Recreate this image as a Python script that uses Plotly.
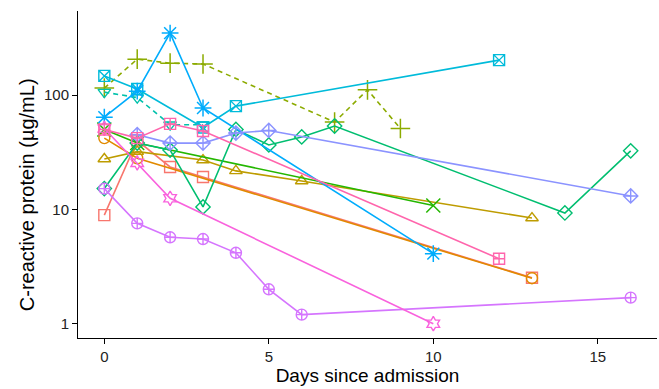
import plotly.graph_objects as go

# ---- data ----
sq_days = [0, 1, 2, 3, 13]
sq_crp = [8.9, 40, 23.5, 19.2, 2.52]

ci_days = [0, 1, 13]
ci_crp = [42, 28, 2.5]

tri_days = [0, 1, 3, 4, 6, 13]
tri_crp = [27.6, 32, 27, 21.7, 17.7, 8.4]

plus_days = [0, 1, 2, 3, 7, 8, 9]
plus_crp = [115, 206, 190, 187, 58, 111, 51]

x_days = [0, 1, 10]
x_crp = [50, 38, 10.8]

dia_days = [0, 1, 2, 3, 4, 5, 6, 7, 14, 16]
dia_crp = [15.2, 38, 33, 10.5, 50, 36.6, 43, 53.6, 9.3, 32.5]

trd_days = [0, 1, 2, 3]
trd_crp = [106, 95, 55, 55]

sqx_days = [0, 1, 3, 4, 12]
sqx_crp = [147, 113, 52, 80, 202]

ast_days = [0, 1, 2, 3, 10]
ast_crp = [64, 108, 348, 77, 4.1]

dp_days = [1, 2, 3, 4, 5, 16]
dp_crp = [45, 38, 38, 46.5, 49, 13.1]

cp_days = [0, 1, 2, 3, 4, 5, 6, 16]
cp_crp = [15.2, 7.55, 5.7, 5.5, 4.17, 2.0, 1.2, 1.69]

star_days = [0, 1, 2, 10]
star_crp = [51, 25.5, 12.5, 1.0]

sqp_days = [0, 1, 2, 3, 12]
sqp_crp = [50, 42, 56, 48.5, 3.7]

series = [
    (sq_days, sq_crp, "#F8766D", "square-open", "solid"),
    (ci_days, ci_crp, "#E18A00", "circle-open", "solid"),
    (tri_days, tri_crp, "#BE9C00", "triangle-up-open", "solid"),
    (plus_days, plus_crp, "#8CAB00", "cross-thin-open", "5px,4px"),
    (x_days, x_crp, "#24B700", "x-thin-open", "solid"),
    (dia_days, dia_crp, "#00BE70", "diamond-open", "solid"),
    (trd_days, trd_crp, "#00C1AB", "triangle-down-open", "5px,4px"),
    (sqx_days, sqx_crp, "#00BBDA", "square-x-open", "solid"),
    (ast_days, ast_crp, "#00ACFC", "asterisk-open", "solid"),
    (dp_days, dp_crp, "#8B93FF", "diamond-cross-open", "solid"),
    (cp_days, cp_crp, "#D575FE", "circle-cross-open", "solid"),
    (star_days, star_crp, "#F962DD", "hexagram-open", "solid"),
    (sqp_days, sqp_crp, "#FF65AC", "square-cross-open", "solid"),
]

fig = go.Figure()
for d, v, col, sym, dash in series:
    big = sym in ("cross-thin-open", "x-thin-open", "asterisk-open")
    fig.add_trace(go.Scatter(
        x=d, y=v, mode="lines+markers",
        line=dict(color=col, width=1.6, dash=dash),
        marker=dict(symbol=sym, size=14 if big else 11, color=col,
                    line=dict(color=col, width=1.5 if big else 1.4)),
        showlegend=False,
    ))

font_family = "Liberation Sans, Arial, sans-serif"
fig.update_layout(
    width=659, height=389,
    margin=dict(l=78, r=2, t=11, b=51),
    paper_bgcolor="white", plot_bgcolor="white",
    font=dict(family=font_family, color="black"),
    xaxis=dict(
        range=[-0.8, 16.8], tickvals=[0, 5, 10, 15],
        showline=True, linecolor="black", linewidth=1,
        ticks="outside", ticklen=5, tickcolor="black",
        showgrid=False, zeroline=False,
        tickfont=dict(size=15, color="#222"),
        title=dict(text="Days since admission", font=dict(size=19), standoff=2),
    ),
    yaxis=dict(
        type="log", range=[-0.125, 2.735], tickvals=[1, 10, 100],
        ticktext=["1", "10", "100"],
        showline=True, linecolor="black", linewidth=1,
        ticks="outside", ticklen=5, tickcolor="black",
        showgrid=False, zeroline=False,
        tickfont=dict(size=15, color="#222"),
    ),
    annotations=[dict(
        text="C-reactive protein (µg/mL)", textangle=-90,
        xref="paper", yref="paper", x=-0.088, y=0.437,
        xanchor="center", yanchor="middle", showarrow=False,
        font=dict(size=20, color="black"),
    )],
)

fig.write_html("out.html")
